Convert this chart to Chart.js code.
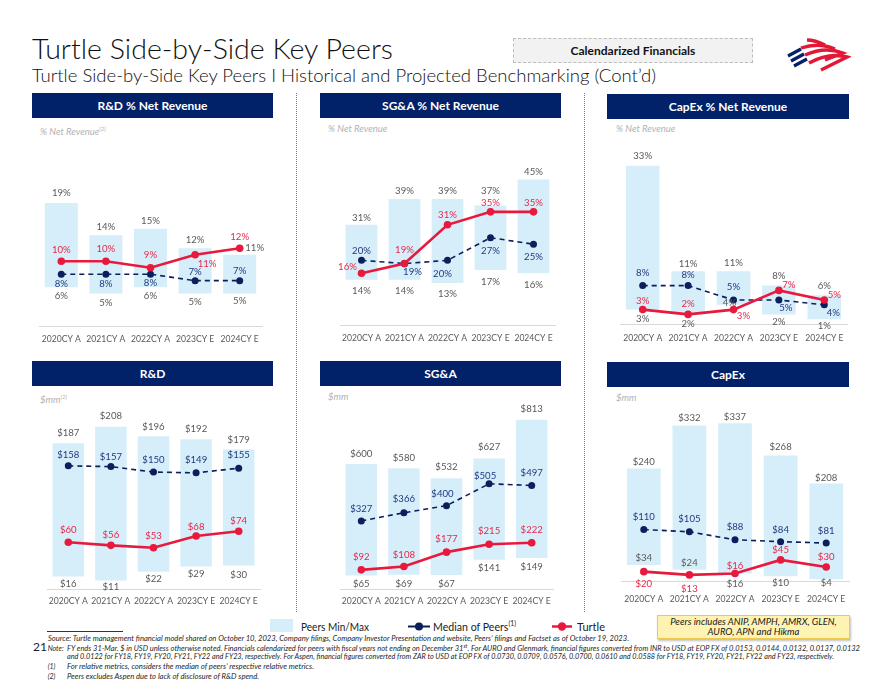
<!DOCTYPE html>
<html><head><meta charset="utf-8">
<script src="https://cdn.jsdelivr.net/npm/chart.js@4.4.0/dist/chart.umd.min.js"></script>
<style>
body{margin:0;background:#fff;font-family:Lato,"Noto Sans",sans-serif;}
#page{position:relative;width:880px;height:681px;overflow:hidden;background:#fff;}
.t{position:absolute;white-space:nowrap;transform-origin:0 50%;}
.hdr{position:absolute;height:25px;background:#012169;color:#fff;font-weight:700;font-size:12px;display:flex;align-items:center;justify-content:center;}
.sub{position:absolute;font-style:italic;color:#b3b3b3;font-size:9.5px;white-space:nowrap;line-height:10px;}
.sub sup{font-size:6px;}
canvas{position:absolute;}
.sep{position:absolute;width:0;border-left:1.5px dotted #7a7a7a;}
.fn{position:absolute;white-space:nowrap;font-style:italic;font-size:7px;color:#262626;line-height:8px;transform-origin:0 50%;}
</style></head>
<body><div id="page">

<div class="t" style="left:32px;top:34px;font-size:28px;line-height:28px;font-weight:300;color:#111;" data-w="361">Turtle Side-by-Side Key Peers</div>
<div class="t" style="left:32px;top:67px;font-size:17px;line-height:17px;font-weight:300;color:#111;" data-w="624">Turtle Side-by-Side Key Peers I Historical and Projected Benchmarking (Cont’d)</div>
<div style="position:absolute;left:513px;top:38px;width:238px;height:23px;border:1px dashed #bdbdbd;background:#f2f2f2;display:flex;align-items:center;justify-content:center;font-weight:700;font-size:12px;color:#111;">Calendarized Financials</div>
<svg style="position:absolute;left:785px;top:36px" width="66" height="38" viewBox="0 0 66 38">
  <g stroke="#012169" stroke-width="3.2" stroke-linecap="butt" fill="none">
    <path d="M3 20 L16 13"/><path d="M6 25 L19 18"/><path d="M9 30 L22 23"/>
  </g>
  <g stroke="#e31837" stroke-width="3.4" fill="none">
    <path d="M22 4 Q30 4 40 9"/>
    <path d="M16 12 Q34 6 50 13"/>
    <path d="M20 19 Q40 10 58 17 L 40 24"/>
    <path d="M24 27 Q44 16 62 21 L 36 34"/>
  </g>
</svg>

<div class="sep" style="left:296px;top:93px;height:519px;"></div>
<div class="sep" style="left:584px;top:93px;height:519px;"></div>

<div class="hdr" style="left:32px;top:93px;width:241px;">R&amp;D % Net Revenue</div>
<div class="hdr" style="left:320px;top:93px;width:241px;">SG&amp;A % Net Revenue</div>
<div class="hdr" style="left:607px;top:94px;width:242px;">CapEx % Net Revenue</div>
<div class="hdr" style="left:32px;top:361px;width:241px;">R&amp;D</div>
<div class="hdr" style="left:320px;top:361px;width:241px;">SG&amp;A</div>
<div class="hdr" style="left:607px;top:362px;width:242px;">CapEx</div>

<div class="sub" style="left:40px;top:124px;">% Net Revenue<sup>(2)</sup></div>
<div class="sub" style="left:328px;top:124px;">% Net Revenue</div>
<div class="sub" style="left:616px;top:124px;">% Net Revenue</div>
<div class="sub" style="left:40px;top:392px;">$mm<sup>(2)</sup></div>
<div class="sub" style="left:328px;top:392px;">$mm</div>
<div class="sub" style="left:616px;top:393px;">$mm</div>

<canvas id="c1" width="253" height="215" style="left:24px;top:135px;"></canvas>
<canvas id="c2" width="245" height="214" style="left:325px;top:135px;"></canvas>
<canvas id="c3" width="257" height="213" style="left:605px;top:135px;"></canvas>
<canvas id="c4" width="243" height="218" style="left:32px;top:395px;"></canvas>
<canvas id="c5" width="243" height="218" style="left:325px;top:395px;"></canvas>
<canvas id="c6" width="258" height="216" style="left:606px;top:395px;"></canvas>

<!-- legend -->
<div style="position:absolute;left:270px;top:619px;width:23px;height:13px;background:#d6eefa;"></div>
<div class="t" style="left:301px;top:620px;font-size:11px;line-height:13px;color:#222;" data-w="68">Peers Min/Max</div>
<svg style="position:absolute;left:406px;top:620px" width="26" height="13"><line x1="2" y1="6.5" x2="24" y2="6.5" stroke="#0b1f5c" stroke-width="2"/><circle cx="13" cy="6.5" r="4" fill="#0b1f5c"/></svg>
<div class="t" style="left:433px;top:620px;font-size:11px;line-height:13px;color:#222;" data-w="83">Median of Peers<sup style="font-size:7px;line-height:0">(1)</sup></div>
<svg style="position:absolute;left:551px;top:620px" width="22" height="13"><line x1="1" y1="6.5" x2="21" y2="6.5" stroke="#e8193c" stroke-width="2.5"/><circle cx="11" cy="6.5" r="4.2" fill="#e8193c"/></svg>
<div class="t" style="left:577px;top:620px;font-size:11px;line-height:13px;color:#222;" data-w="28">Turtle</div>

<div style="position:absolute;left:657px;top:615px;width:191px;height:21px;background:#fff3b3;border:1px solid #f1c94a;box-shadow:1px 2px 2px rgba(0,0,0,0.25);font-style:italic;font-size:9.5px;line-height:9.5px;text-align:center;color:#1a1a1a;padding-top:1px;">Peers includes ANIP, AMPH, AMRX, GLEN,<br>AURO, APN and Hikma</div>

<!-- footnotes -->
<div style="position:absolute;left:47px;top:631px;width:76px;height:1px;background:#333;"></div>
<div class="fn" style="left:47.7px;top:634px;" data-w="581">Source: Turtle management financial model shared on October 10, 2023, Company filings, Company Investor Presentation and website, Peers’ filings and Factset as of October 19, 2023.</div>
<div class="t" style="left:33px;top:641px;font-size:12px;line-height:12px;color:#222;">21</div>
<div class="fn" style="left:47.7px;top:643.5px;">Note:</div>
<div class="fn" style="left:66.5px;top:643.5px;" data-w="793">FY ends 31-Mar. $ in USD unless otherwise noted. Financials calendarized for peers with fiscal years not ending on December 31<sup style="font-size:5px;line-height:0">st</sup>. For AURO and Glenmark, financial figures converted from INR to USD at EOP FX of 0.0153, 0.0144, 0.0132, 0.0137, 0.0132</div>
<div class="fn" style="left:66.5px;top:652px;" data-w="767">and 0.0122 for FY18, FY19, FY20, FY21, FY22 and FY23, respectively. For Aspen, financial figures converted from ZAR to USD at EOP FX of 0.0730, 0.0709, 0.0576, 0.0700, 0.0610 and 0.0588 for FY18, FY19, FY20, FY21, FY22 and FY23, respectively.</div>
<div class="fn" style="left:47.7px;top:662px;">(1)</div>
<div class="fn" style="left:66.5px;top:662px;" data-w="247">For relative metrics, considers the median of peers’ respective relative metrics.</div>
<div class="fn" style="left:47.7px;top:671.5px;">(2)</div>
<div class="fn" style="left:66.5px;top:671.5px;" data-w="192">Peers excludes Aspen due to lack of disclosure of R&amp;D spend.</div>

</div>
<script>
// ---------------- DATA ----------------
const categories = ['2020CY A','2021CY A','2022CY A','2023CY E','2024CY E'];

const rdPctMin     = [6, 5, 6, 5, 5];
const rdPctMax     = [19, 14, 15, 12, 11];
const rdPctMedian  = [8, 8, 8, 7, 7];
const rdPctTurtle  = [10, 10, 9, 11, 12];

const sgaPctMin    = [14, 14, 13, 17, 16];
const sgaPctMax    = [31, 39, 39, 37, 45];
const sgaPctMedian = [20, 19, 20, 27, 25];
const sgaPctTurtle = [16, 19, 31, 35, 35];

const capexPctMin    = [3, 2, 4, 2, 1];
const capexPctMax    = [33, 11, 11, 8, 6];
const capexPctMedian = [8, 8, 5, 5, 4];
const capexPctTurtle = [3, 2, 3, 7, 5];

const rdMin     = [16, 11, 22, 29, 30];
const rdMax     = [187, 208, 196, 192, 179];
const rdMedian  = [158, 157, 150, 149, 155];
const rdTurtle  = [60, 56, 53, 68, 74];

const sgaMin    = [65, 69, 67, 141, 149];
const sgaMax    = [600, 580, 532, 627, 813];
const sgaMedian = [327, 366, 400, 505, 497];
const sgaTurtle = [92, 108, 177, 215, 222];

const capexMin    = [34, 24, 16, 10, 4];
const capexMax    = [240, 332, 337, 268, 208];
const capexMedian = [110, 105, 88, 84, 81];
const capexTurtle = [20, 13, 16, 45, 30];

// ---------------- STYLE ----------------
const BAR = '#d6eefa', NAVY = '#0b1f5c', RED = '#e8193c';
const GREY_TXT = '#595959', NAVY_TXT = '#1f3a80', RED_TXT = '#e8284a';
const pct = v => v + '%';
const usd = v => '$' + v;
const formats = {c1: pct, c2: pct, c3: pct, c4: usd, c5: usd, c6: usd};

// label offsets [dx, dy] relative to bar top / bar bottom / point
const layouts = {
  c1: {max:[[0,-10],[0,-8],[0,-8],[0,-8],[15,-7]], min:[[0,9],[0,9],[0,9],[0,8],[0,7]],
       med:[[0,10],[0,10],[0,9],[0,-9],[0,-10]], tur:[[0,-11],[0,-12],[0,-13],[12,9],[0,-11]]},
  c2: {max:[[0,-7],[0,-8],[0,-8],[0,-14],[0,-8]], min:[[0,11],[0,11],[0,11],[0,12],[0,12]],
       med:[[0,-9],[8,8],[-5,14],[0,13],[0,13]], tur:[[-14,-6],[0,-14],[0,-10],[0,-9],[0,-9]]},
  c3: {max:[[0,-10],[0,-7],[0,-8],[0,-10],[0,-9]], min:[[0,9],[0,10],[-4,-2],[0,8],[0,7]],
       med:[[0,-13],[0,-11],[0,-13],[7,8],[9,8]], tur:[[0,-9],[0,-10],[10,6],[10,-6],[10,-5]]},
  c4: {max:[[0,-10],[0,-11],[0,-9],[0,-10],[0,-10]], min:[[0,7],[0,6],[0,7],[0,8],[0,9]],
       med:[[0,-11],[0,-10],[0,-12],[0,-13],[0,-13]], tur:[[0,-12],[0,-10],[0,-12],[0,-9],[0,-10]]},
  c5: {max:[[0,-10],[0,-10],[0,-11],[0,-11],[0,-11]], min:[[0,8],[0,9],[0,9],[0,8],[0,9]],
       med:[[0,-12],[0,-14],[-4,-12],[-4,-8],[0,-13]], tur:[[0,-13],[0,-12],[0,-13],[0,-13],[0,-13]]},
  c6: {max:[[0,-7],[0,-8],[0,-6],[0,-9],[0,-6]], min:[[0,-7],[0,-7],[0,10],[0,7],[0,4]],
       med:[[0,-13],[0,-13],[0,-13],[0,-12],[0,-12]], tur:[[0,12],[0,14],[0,-8],[0,-10],[0,-10]]}
};

Chart.defaults.font.family = 'Lato, "Noto Sans", sans-serif';
Chart.defaults.animation = false;

const valueLabels = {
  id: 'valueLabels',
  afterDatasetsDraw(chart) {
    const id = chart.canvas.id;
    const L = layouts[id], f = formats[id];
    if (!L) return;
    const ctx = chart.ctx;
    ctx.save();
    ctx.font = '9.6px Lato, "Noto Sans", sans-serif';
    ctx.textAlign = 'center';
    ctx.textBaseline = 'middle';
    const ds = chart.data.datasets;
    chart.getDatasetMeta(0).data.forEach((b, i) => {
      const top = Math.min(b.y, b.base), bot = Math.max(b.y, b.base);
      const pair = ds[0].data[i];
      ctx.fillStyle = GREY_TXT;
      ctx.fillText(f(pair[1]), b.x + L.max[i][0], top + L.max[i][1]);
      ctx.fillText(f(pair[0]), b.x + L.min[i][0], bot + L.min[i][1]);
    });
    chart.getDatasetMeta(1).data.forEach((p, i) => {
      ctx.fillStyle = NAVY_TXT;
      ctx.fillText(f(ds[1].data[i]), p.x + L.med[i][0], p.y + L.med[i][1]);
    });
    chart.getDatasetMeta(2).data.forEach((p, i) => {
      ctx.fillStyle = RED_TXT;
      ctx.fillText(f(ds[2].data[i]), p.x + L.tur[i][0], p.y + L.tur[i][1]);
    });
    ctx.restore();
  }
};

function makeChart(id, mins, maxs, med, tur, yMax, tickPad, axisH) {
  new Chart(document.getElementById(id), {
    type: 'bar',
    data: {
      labels: categories,
      datasets: [
        {type:'bar', data: mins.map((v,i)=>[v, maxs[i]]), backgroundColor: BAR, borderWidth: 0,
         borderSkipped: false, categoryPercentage: 1, barPercentage: 0.74, order: 3},
        {type:'line', data: med, borderColor: NAVY, backgroundColor: NAVY, borderWidth: 1.6,
         borderDash: [5,4], pointRadius: 3.5, pointHoverRadius: 3.5, pointBackgroundColor: NAVY,
         pointBorderWidth: 0, tension: 0, clip: false, order: 2},
        {type:'line', data: tur, borderColor: RED, backgroundColor: RED, borderWidth: 2.6,
         pointRadius: 3.8, pointHoverRadius: 3.8, pointBackgroundColor: RED, pointBorderWidth: 0,
         tension: 0, clip: false, order: 1}
      ]
    },
    options: {
      responsive: false,
      layout: {padding: {left: 15, right: 15, top: 0, bottom: 0}},
      plugins: {legend: {display:false}, tooltip: {enabled:false}},
      scales: {
        x: {grid: {display:false, drawTicks:false}, border: {display:true, color:'#d9d9d9', width:1},
            ticks: {color: GREY_TXT, font: {size: 8.6}, padding: tickPad, maxRotation: 0, autoSkip: false},
            afterFit(s){ s.height = axisH; }},
        y: {display: false, min: 0, max: yMax}
      }
    },
    plugins: [valueLabels]
  });
}

makeChart('c1', rdPctMin, rdPctMax, rdPctMedian, rdPctTurtle, 28.9, 8, 24);
makeChart('c2', sgaPctMin, sgaPctMax, sgaPctMedian, sgaPctTurtle, 57.6, 8, 24);
makeChart('c3', capexPctMin, capexPctMax, capexPctMedian, capexPctTurtle, 38.6, 9, 24);
makeChart('c4', rdMin, rdMax, rdMedian, rdTurtle, 244, 7, 24);
makeChart('c5', sgaMin, sgaMax, sgaMedian, sgaTurtle, 913, 7, 24);
makeChart('c6', capexMin, capexMax, capexMedian, capexTurtle, 389, 13.5, 30);

// fit text widths to the reference
document.querySelectorAll('[data-w]').forEach(el => {
  const w = el.getBoundingClientRect().width;
  const target = parseFloat(el.dataset.w);
  if (w > 0) el.style.transform = 'scaleX(' + (target / w).toFixed(4) + ')';
});
</script>
</body></html>
